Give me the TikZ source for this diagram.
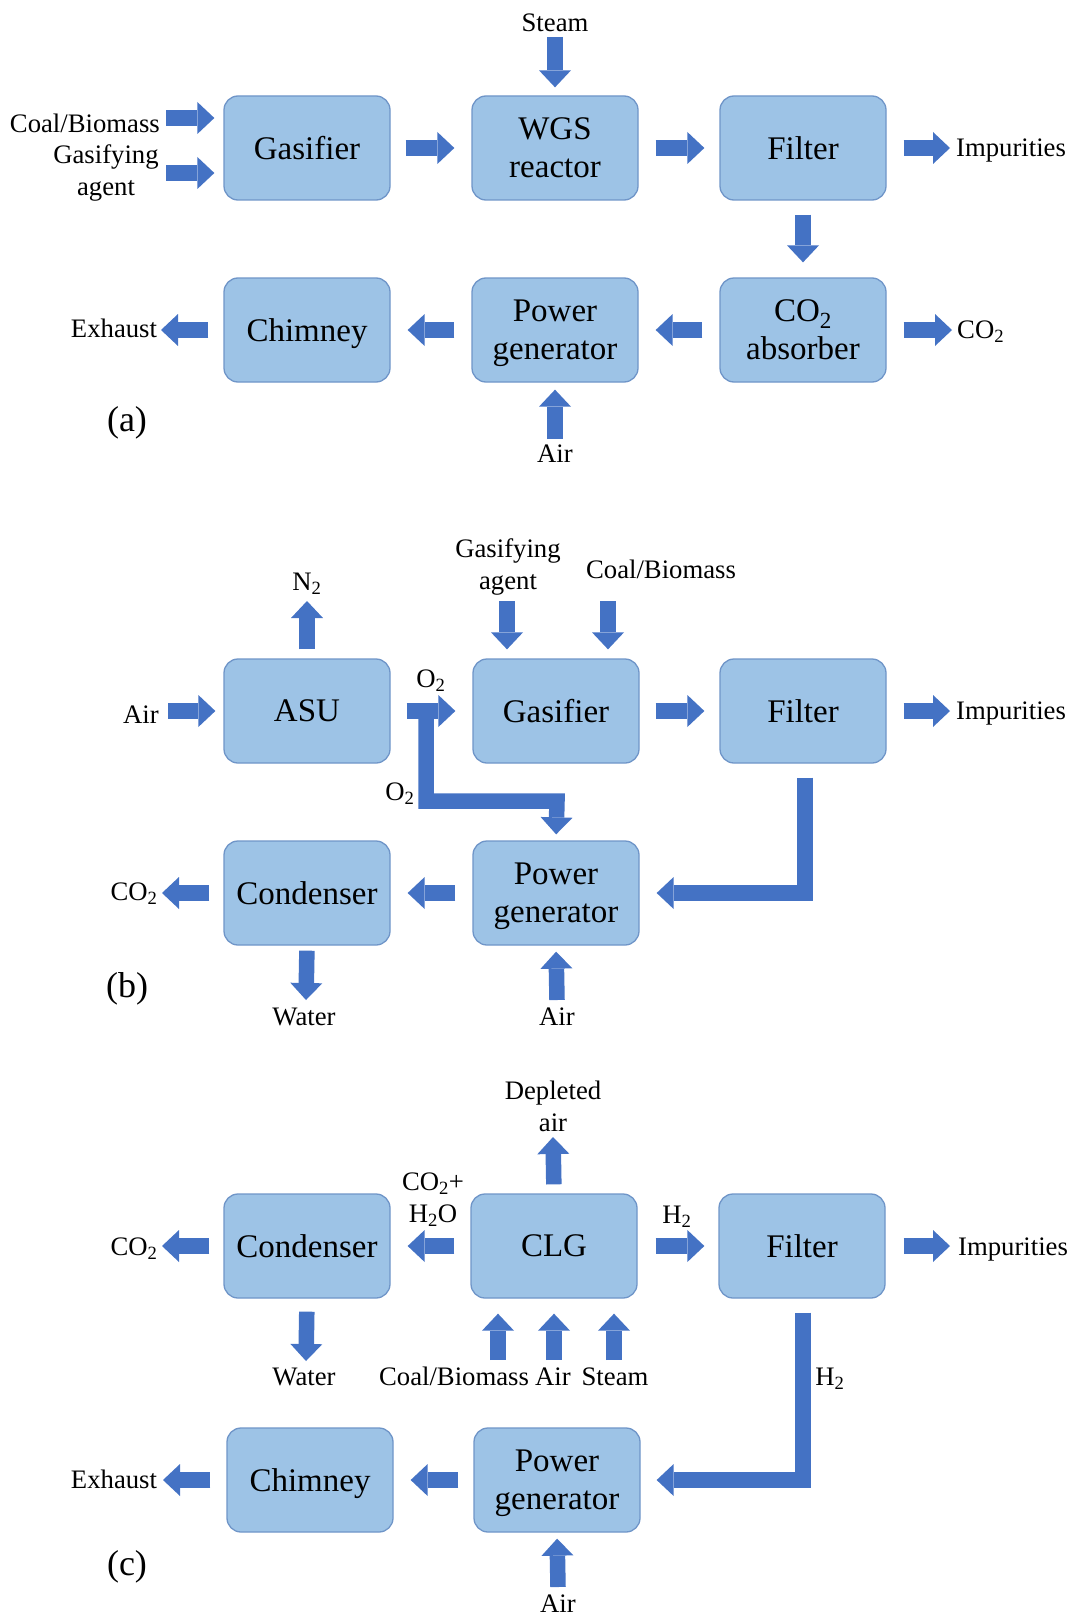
\documentclass[tikz,border=0pt]{standalone}
\usepackage{fontspec}
\setmainfont{Liberation Serif}
\usetikzlibrary{arrows.meta,calc}
\definecolor{boxfill}{HTML}{9DC3E6}
\definecolor{boxline}{HTML}{6F95C8}
\definecolor{arrowblue}{HTML}{4472C4}
\begin{document}
\begin{tikzpicture}[x=1pt,y=-1pt,
 box/.style={draw=boxline, line width=1.3pt, fill=boxfill, rounded corners=14pt, minimum width=166pt, minimum height=104pt, align=center, font=\fontsize{33}{38}\selectfont, inner sep=0pt, text depth=0pt},
 lbl/.style={font=\fontsize{26.7}{32}\selectfont, align=center, inner sep=0pt},
 flow/.style={draw=arrowblue, line width=15.5pt, -{Triangle[length=17pt,width=32pt,line width=0pt]}},
 bent/.style={flow, line join=miter},
 plab/.style={font=\fontsize{36}{40}\selectfont, inner sep=0pt}
]
\useasboundingbox (0,0) rectangle (1075,1616);

% ---------- (a) ----------
\node[box] (gasA) at (307,148) {Gasifier};
\node[box] (wgsA) at (555,148) {WGS\\reactor};
\node[box] (filA) at (803,148) {Filter};
\node[box] (chiA) at (307,330) {Chimney};
\node[box] (powA) at (555,330) {Power\\generator};
\node[box] (absA) at (803,330) {CO\textsubscript{2}\\absorber};

\node[lbl] (steamA) at (555,23) {Steam};
\node[lbl, anchor=east] (coalA) at (160,123) {Coal/Biomass};
\node[lbl] (gagA) at (106,173) {Gasifying\\agent};
\node[lbl, anchor=west] (impA) at (956,151) {Impurities};
\node[lbl, anchor=west] (co2A) at (957,332) {CO\textsubscript{2}};
\node[lbl] (exhA) at (114,328) {Exhaust};
\node[lbl] (airA) at (555,454) {Air};
\node[plab] (labA) at (127,423) {(a)};

\draw[flow, shorten >=8pt] (555,37) -- (wgsA.north);
\draw[flow, shorten >=9pt] (166,118) -- (gasA.west |- 0,118);
\draw[flow, shorten >=9pt] (166,173) -- (gasA.west |- 0,173);
\draw[flow, shorten <=15pt, shorten >=17pt] (gasA) -- (wgsA);
\draw[flow, shorten <=17pt, shorten >=15pt] (wgsA) -- (filA);
\draw[flow, shorten <=17pt, shorten >=6pt] (filA) -- (impA.west |- filA);
\draw[flow, shorten <=14pt, shorten >=15pt] (filA) -- (absA);
\draw[flow, shorten <=17pt, shorten >=17pt] (absA) -- (powA);
\draw[flow, shorten <=17pt, shorten >=17pt] (powA) -- (chiA);
\draw[flow, shorten <=15pt] (chiA.west) -- (161,330);
\draw[flow, shorten <=17pt] (absA.east) -- (952,330);
\draw[flow, shorten >=7pt] (555,439) -- (powA.south);

% ---------- (b) ----------
\node[box] (asuB) at (307,711) {ASU};
\node[box] (gasB) at (556,711) {Gasifier};
\node[box] (filB) at (803,711) {Filter};
\node[box] (conB) at (307,893) {Condenser};
\node[box] (powB) at (556,893) {Power\\generator};

\node[lbl] (n2B) at (307,584) {N\textsubscript{2}};
\node[lbl] (airB) at (141,715) {Air};
\node[lbl] (gagB) at (508,567) {Gasifying\\agent};
\node[lbl] (coalB) at (661,569) {Coal/Biomass};
\node[lbl, anchor=west] (impB) at (956,713) {Impurities};
\node[lbl] (co2B) at (134,894) {CO\textsubscript{2}};
\node[lbl] (watB) at (304,1017) {Water};
\node[lbl] (air2B) at (557,1017) {Air};
\node[lbl] (o2aB) at (431,681) {O\textsubscript{2}};
\node[lbl] (o2bB) at (400,794) {O\textsubscript{2}};
\node[plab] (labB) at (127,989) {(b)};

\draw[flow, shorten <=9pt] (asuB.north) -- (307,601);
\draw[flow, shorten >=8pt] (168,711) -- (asuB.west);
\draw[flow, shorten >=9pt] (507,601) -- (gasB.north -| 507,0);
\draw[flow, shorten >=9pt] (608,601) -- (gasB.north -| 608,0);
\draw[flow, shorten <=16pt, shorten >=17pt] (asuB) -- (gasB);
\draw[bent, shorten >=6pt] (426,705) |- (557,801) -- (powB.north);
\draw[flow, shorten <=16pt, shorten >=15pt] (gasB) -- (filB);
\draw[flow, shorten <=17pt, shorten >=6pt] (filB) -- (impB.west |- filB);
\draw[bent, shorten <=14pt, shorten >=17pt] (filB.south -| 805,0) |- (powB.east);
\draw[flow, shorten <=17pt, shorten >=17pt] (powB) -- (conB);
\draw[flow, shorten <=14pt] (conB.west) -- (162,893);
\draw[flow, shorten <=5pt] (conB.south) -- (306,1000);
\draw[flow, shorten >=6pt] (557,1000) -- (powB.south);

% ---------- (c) ----------
\node[box] (conC) at (307,1246) {Condenser};
\node[box] (clgC) at (554,1246) {CLG};
\node[box] (filC) at (802,1246) {Filter};
\node[box] (chiC) at (310,1480) {Chimney};
\node[box] (powC) at (557,1480) {Power\\generator};

\node[lbl] (depC) at (553,1106) {Depleted\\air};
\node[lbl] (cohC) at (433,1200) {CO\textsubscript{2}+\\H\textsubscript{2}O};
\node[lbl] (h2aC) at (677,1217) {H\textsubscript{2}};
\node[lbl] (co2C) at (134,1249) {CO\textsubscript{2}};
\node[lbl, anchor=west] (impC) at (958,1249) {Impurities};
\node[lbl] (watC) at (304,1377) {Water};
\node[lbl, anchor=base] (coalC) at (454,1385) {Coal/Biomass};
\node[lbl, anchor=base] (airC) at (553,1385) {Air};
\node[lbl, anchor=base] (steamC) at (615,1385) {Steam};
\node[lbl] (h2bC) at (830,1379) {H\textsubscript{2}};
\node[lbl] (exhC) at (114,1479) {Exhaust};
\node[lbl] (air2C) at (558,1604) {Air};
\node[plab] (labC) at (127,1567) {(c)};

\draw[flow, shorten <=9pt] (clgC.north) -- (553,1137);
\draw[flow, shorten <=16pt, shorten >=17pt] (clgC) -- (conC);
\draw[flow, shorten <=18pt, shorten >=14pt] (clgC) -- (filC);
\draw[flow, shorten <=18pt, shorten >=8pt] (filC) -- (impC.west |- filC);
\draw[bent, shorten <=14pt, shorten >=16pt] (filC.south -| 803,0) |- (powC.east);
\draw[flow, shorten <=15pt, shorten >=17pt] (powC) -- (chiC);
\draw[flow, shorten <=16pt] (chiC.west) -- (163,1480);
\draw[flow, shorten <=14pt] (conC.west) -- (162,1246);
\draw[flow, shorten <=13pt] (conC.south) -- (306,1361);
\draw[flow, shorten >=15pt] (498,1360) -- (clgC.south -| 498,0);
\draw[flow, shorten >=15pt] (554,1360) -- (clgC.south -| 554,0);
\draw[flow, shorten >=15pt] (614,1360) -- (clgC.south -| 614,0);
\draw[flow, shorten >=6pt] (558,1587) -- (powC.south);
\end{tikzpicture}
\end{document}
